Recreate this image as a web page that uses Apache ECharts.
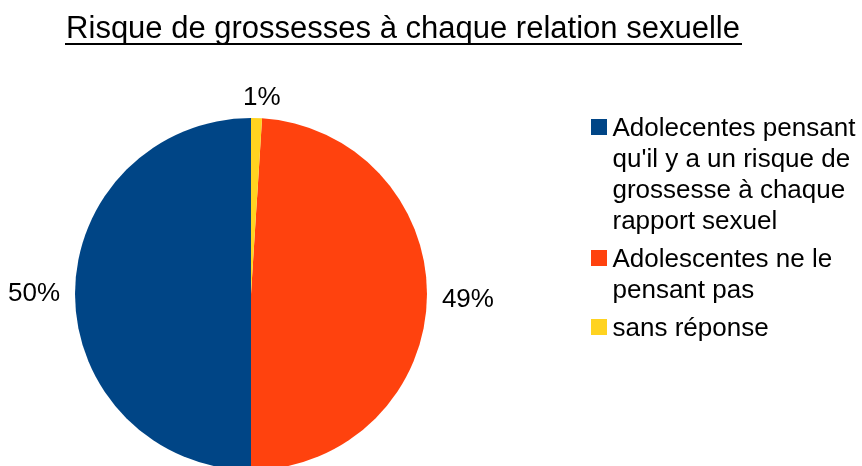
<!DOCTYPE html>
<html>
<head>
<meta charset="utf-8">
<script src="https://cdn.jsdelivr.net/npm/echarts@6/dist/echarts.min.js"></script>
<style>
  html, body { margin: 0; padding: 0; background: #fff; }
  #chart { width: 862px; height: 466px; }
</style>
</head>
<body>
<div id="chart"></div>
<script>
var categories = [
  "Adolecentes pensant\nqu'il y a un risque de\ngrossesse à chaque\nrapport sexuel",
  "Adolescentes ne le\npensant pas",
  "sans réponse"
];
var values = [50, 49, 1];
var colors = ['#004586', '#ff420e', '#ffd320'];

var FONT = '"Liberation Sans", Arial, sans-serif';
var chart = echarts.init(document.getElementById('chart'));

// legend icon: 16px square near top of a tall box, so it sits at the first text line
function iconFor(h) {
  return 'path://M0,0L16,0L16,0.001Z M0,6L16,6L16,22L0,22Z M0,' + h + 'L16,' + h + 'L16,' + (h - 0.001) + 'Z';
}
function legendItem(i, top, lines) {
  var h = lines * 31;
  return {
    data: [{ name: categories[i], icon: iconFor(h) }],
    left: 591,
    top: top,
    orient: 'vertical',
    padding: 0,
    itemWidth: 17,
    itemHeight: h,
    selectedMode: false,
    textStyle: { fontFamily: FONT, fontSize: 26, color: '#000', lineHeight: 31 }
  };
}

var option = {
  animation: false,
  title: {
    text: 'Risque de grossesses à chaque relation sexuelle',
    left: 403,
    textAlign: 'center',
    top: 14,
    padding: 0,
    textStyle: { fontFamily: FONT, fontSize: 31, fontWeight: 'normal', color: '#000' }
  },
  graphic: [{
    type: 'line',
    shape: { x1: 65, y1: 44, x2: 742, y2: 44 },
    style: { stroke: '#000', lineWidth: 2 }
  }],
  legend: [
    legendItem(0, 113, 4),
    legendItem(1, 244, 2),
    legendItem(2, 313, 1)
  ],
  series: [{
    type: 'pie',
    center: [251, 294],
    radius: 176,
    startAngle: 90,
    clockwise: false,
    color: colors,
    avoidLabelOverlap: false,
    itemStyle: { borderWidth: 0 },
    label: {
      show: true,
      position: 'outside',
      formatter: '{c}%',
      fontFamily: FONT,
      fontSize: 26,
      color: '#000'
    },
    labelLine: { show: false, length: 10, length2: 0 },
    labelLayout: function (p) {
      if (p.dataIndex === 2) return { align: 'center', dy: -10 };
    },
    emphasis: { disabled: true },
    data: categories.map(function (c, i) {
      return { name: c, value: values[i] };
    })
  }]
};
chart.setOption(option);
</script>
</body>
</html>
